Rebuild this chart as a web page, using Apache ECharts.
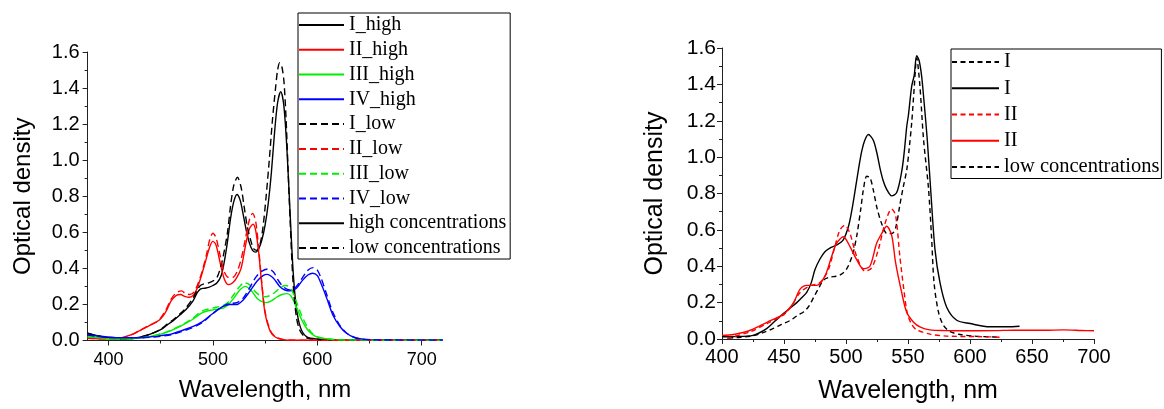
<!DOCTYPE html>
<html>
<head>
<meta charset="utf-8">
<script src="https://cdn.jsdelivr.net/npm/echarts@6/dist/echarts.min.js"></script>
<style>
html,body{margin:0;padding:0;background:#fff;}
#c{width:1164px;height:409px;}
</style>
</head>
<body>
<div id="c"></div>
<script>
// ---------- Left panel data ----------
const I_high_nm = [380,390,400,410,420,430,440,450,456,462,468,474,481,485,488,492,496,500,504,508,511,514,517,520,523,526,529,532,535,538,541,544,547,550,553,556,559,562,565,568,571,574,577,580,584,590,600,620,650,720];
const I_high_od = [0.04,0.025,0.015,0.01,0.01,0.018,0.035,0.06,0.085,0.11,0.14,0.17,0.22,0.265,0.285,0.29,0.295,0.305,0.32,0.36,0.44,0.55,0.68,0.77,0.81,0.78,0.7,0.61,0.54,0.5,0.49,0.51,0.56,0.64,0.76,0.93,1.15,1.32,1.38,1.3,1.05,0.7,0.37,0.18,0.07,0.02,0.008,0.004,0.002,0.001];

const I_low_nm = [380,390,400,410,420,430,440,450,456,462,468,474,481,485,488,492,496,500,504,508,511,514,517,520,523.5,527,530,533,536,539,542,545,548,551,554,557,560,562,564,566,568,570,572,574,577,580,583,588,595,620,650,720];
const I_low_od = [0.04,0.025,0.015,0.01,0.01,0.018,0.035,0.062,0.09,0.115,0.145,0.18,0.235,0.28,0.305,0.315,0.32,0.33,0.35,0.42,0.5,0.6,0.75,0.86,0.905,0.85,0.74,0.63,0.56,0.51,0.5,0.53,0.63,0.8,1.0,1.22,1.4,1.5,1.54,1.52,1.44,1.24,0.95,0.66,0.3,0.13,0.06,0.02,0.008,0.004,0.002,0.001];

const II_high_nm = [380,390,400,410,415,420,425,430,435,440,445,450,455,460,465,469,473,477,481,485,489,493,497,500,503,507,511,515,519,523,527,531,535,538.5,541,544,547,550,555,560,567,580,720];
const II_high_od = [0.015,0.01,0.01,0.012,0.018,0.028,0.04,0.055,0.07,0.085,0.1,0.12,0.16,0.22,0.25,0.255,0.245,0.24,0.25,0.29,0.36,0.44,0.52,0.55,0.53,0.43,0.34,0.31,0.32,0.35,0.4,0.52,0.62,0.645,0.61,0.48,0.3,0.15,0.05,0.018,0.005,0.002,0.001];

const II_low_nm = [380,390,400,410,415,420,425,430,435,440,445,450,455,460,465,470,474,478,482,486,490,494,497,500,503,507,511,515,519,523,527,531,535,538,541,544,547,550,555,560,567,580,720];
const II_low_od = [0.012,0.01,0.01,0.012,0.018,0.028,0.04,0.055,0.072,0.088,0.1,0.125,0.17,0.23,0.265,0.275,0.26,0.255,0.27,0.32,0.39,0.48,0.56,0.595,0.57,0.47,0.38,0.35,0.35,0.38,0.45,0.56,0.67,0.705,0.66,0.5,0.31,0.16,0.055,0.02,0.006,0.002,0.001];

const III_high_nm = [380,390,400,410,420,430,440,450,460,470,480,490,500,510,515,520,525,531,537,543,551,556,561,566,571,575,580,585,590,595,600,610,620,650,720];
const III_high_od = [0.02,0.015,0.01,0.01,0.01,0.015,0.022,0.035,0.055,0.082,0.115,0.155,0.17,0.18,0.2,0.235,0.275,0.3,0.275,0.23,0.21,0.22,0.24,0.255,0.26,0.245,0.185,0.115,0.065,0.035,0.02,0.008,0.004,0.002,0.001];

const III_low_nm = [380,390,400,410,420,430,440,450,460,470,480,490,500,510,515,520,525,530,535,540,545,550,555,560,565,570,575,580,585,590,595,600,610,620,650,720];
const III_low_od = [0.02,0.015,0.01,0.01,0.01,0.015,0.022,0.037,0.058,0.086,0.12,0.165,0.18,0.195,0.215,0.255,0.295,0.32,0.31,0.275,0.25,0.243,0.25,0.27,0.295,0.305,0.285,0.215,0.14,0.08,0.04,0.02,0.008,0.004,0.002,0.001];

const IV_high_nm = [380,390,400,410,420,430,440,450,460,470,480,490,500,510,516,523,529,535,542,548,552,558,564,569,574,580,586,591,595.5,600,604,609,615,622,628,635,644,660,720];
const IV_high_od = [0.035,0.025,0.02,0.015,0.015,0.015,0.02,0.027,0.035,0.055,0.075,0.105,0.15,0.19,0.2,0.2,0.225,0.27,0.327,0.36,0.367,0.345,0.3,0.28,0.275,0.29,0.335,0.363,0.373,0.36,0.31,0.235,0.14,0.075,0.04,0.018,0.007,0.003,0.002];

const IV_low_nm = [380,390,400,410,420,430,440,450,460,470,480,490,500,510,516,523,529,535,541,547,553,558,563,568,574,580,586,591,596,600,604,609,615,622,628,635,645,660,720];
const IV_low_od = [0.03,0.022,0.017,0.015,0.015,0.015,0.018,0.024,0.032,0.05,0.07,0.1,0.15,0.19,0.205,0.21,0.235,0.29,0.35,0.385,0.397,0.38,0.33,0.295,0.28,0.3,0.35,0.39,0.404,0.39,0.34,0.255,0.155,0.08,0.042,0.018,0.006,0.003,0.002];

// ---------- Right panel data ----------
const rI_low_nm = [405,415,425,433,441,448,455,461,466,470,474,478,482,487,492,496,500,503,506,509,512,514,516.7,519.4,522,525,529,533,537,540,543.5,546,549,551,553,555,557,559.5,562.5,566.5,569,571,574.5,578.5,584,592,603,616,624];
const rI_low_od = [0.005,0.01,0.018,0.035,0.057,0.08,0.102,0.13,0.15,0.18,0.23,0.28,0.325,0.34,0.345,0.355,0.38,0.42,0.48,0.58,0.72,0.82,0.895,0.886,0.82,0.72,0.63,0.58,0.58,0.61,0.74,0.83,0.93,1.05,1.19,1.38,1.545,1.4,1.1,0.83,0.56,0.31,0.15,0.076,0.04,0.025,0.016,0.012,0.01];

const rI_high_nm = [400,410,425,436,443,449.5,455,460.3,464,468.3,472,475,479,483,487,492.5,497.8,501.9,504.5,507.3,510,512.6,515,518,522,525,527.4,530,532.8,536.8,540.9,544.9,547,549,550.3,553,555,557,559,561,563,565.5,568.5,571.8,575.8,581.2,589.3,600,616,630,640];
const rI_high_od = [0.012,0.013,0.02,0.057,0.1,0.14,0.17,0.2,0.225,0.256,0.31,0.382,0.44,0.48,0.5,0.517,0.545,0.617,0.7,0.814,0.93,1.03,1.09,1.124,1.093,1.02,0.94,0.87,0.823,0.787,0.805,0.92,1.03,1.17,1.229,1.39,1.45,1.557,1.53,1.445,1.3,1.1,0.8,0.49,0.31,0.175,0.103,0.085,0.067,0.067,0.07];

const rII_low_nm = [404,422.8,436.3,449.7,456,463,471,479,485.8,491,495,499,503.2,508.6,515.3,520.7,526,531.4,536.8,540,543.5,546.5,549.5,553,557,567.7,581,608,624];
const rII_low_od = [0.004,0.04,0.085,0.133,0.18,0.256,0.292,0.31,0.382,0.508,0.598,0.625,0.58,0.454,0.373,0.391,0.49,0.634,0.715,0.68,0.45,0.28,0.14,0.08,0.05,0.027,0.016,0.013,0.01];

const rII_high_nm = [400,409.4,422.8,436.3,449.7,457.7,463,468.3,476.3,483,488.4,492.4,497.8,503.2,508.6,514,519.3,524.7,528.8,532.8,536.8,540,544.9,548.9,554.3,560,567.7,580,594.6,620,634.9,660,675.3,690,700];
const rII_high_od = [0.02,0.025,0.048,0.092,0.137,0.2,0.274,0.295,0.295,0.346,0.454,0.526,0.562,0.508,0.436,0.386,0.4,0.526,0.58,0.62,0.571,0.42,0.256,0.148,0.094,0.065,0.05,0.046,0.045,0.046,0.049,0.048,0.05,0.047,0.045];

// ---------- Tick values ----------
const leftXMajor = [400,500,600,700];
const leftXMinor = [450,550,650];

const rightLegendNames = {
  'rI_low':'I', 'rI_high':'I', 'rII_low':'II', 'rII_high':'II', 'rLowConc':'low concentrations'
};

function zip(xs, ys){ return xs.map((x,i)=>[x, ys[i]]); }

const BLACK='#000000', RED='#ff0000', GREEN='#00ee00', BLUE='#0000ff';
const LDASH=[7,4], RDASH=[5,3.5];
const AX='#222';
const sans='Liberation Sans';
const serif='Liberation Serif';

function ln(name, xs, ys, color, dashed, xi, dash){
  return {
    name, type:'line', xAxisIndex:xi, yAxisIndex:xi, data: zip(xs, ys),
    symbol:'none', showSymbol:false, smooth:0.3, animation:false,
    lineStyle:{color, width:1.4, type: dashed ? dash : 'solid'},
    itemStyle:{color}
  };
}

const chart = echarts.init(document.getElementById('c'), null, {renderer:'canvas'});

const yCommon = {
  type:'value', min:0, max:1.6, interval:0.2,
  axisLine:{show:true, lineStyle:{color:AX, width:1}},
  axisTick:{show:true, length:5, lineStyle:{color:AX}},
  minorTick:{show:true, splitNumber:2, length:3, lineStyle:{color:AX}},
  splitLine:{show:false},
  nameLocation:'middle',
  name:'Optical density'
};

const option = {
  backgroundColor:'#fff',
  animation:false,
  grid:[
    {left:87.6, top:52, width:355, height:288.5},
    {left:722, top:48, width:372, height:296}
  ],
  xAxis:[
    {type:'value', gridIndex:0, min:380, max:720, position:'bottom',
     axisLine:{show:true, onZero:false, lineStyle:{color:AX}},
     axisTick:{show:true, length:5, customValues:leftXMajor, lineStyle:{color:AX}},
     axisLabel:{customValues:leftXMajor, color:'#000', fontFamily:sans, fontSize:18, margin:11},
     splitLine:{show:false},
     name:'Wavelength, nm', nameLocation:'middle', nameGap:38,
     nameTextStyle:{color:'#000', fontFamily:sans, fontSize:24}},
    {type:'value', gridIndex:1, min:400, max:700, interval:50, position:'bottom',
     axisLine:{show:true, onZero:false, lineStyle:{color:AX}},
     axisTick:{show:true, length:5, lineStyle:{color:AX}},
     minorTick:{show:true, splitNumber:2, length:3, lineStyle:{color:AX}},
     axisLabel:{color:'#000', fontFamily:sans, fontSize:20, margin:8},
     splitLine:{show:false},
     name:'Wavelength, nm', nameLocation:'middle', nameGap:40,
     nameTextStyle:{color:'#000', fontFamily:sans, fontSize:25}},
    {type:'value', gridIndex:0, min:380, max:720, position:'bottom',
     axisLine:{show:false},
     axisTick:{show:true, length:3, customValues:leftXMinor, lineStyle:{color:AX}},
     axisLabel:{show:false}, splitLine:{show:false}}
  ],
  yAxis:[
    Object.assign({}, yCommon, {gridIndex:0, nameGap:52,
      axisLabel:{color:'#000', fontFamily:sans, fontSize:20, margin:8, formatter:v=>v.toFixed(1)},
      nameTextStyle:{color:'#000', fontFamily:sans, fontSize:24}}),
    Object.assign({}, yCommon, {gridIndex:1, nameGap:54,
      axisLabel:{color:'#000', fontFamily:sans, fontSize:21, margin:6, formatter:v=>v.toFixed(1)},
      nameTextStyle:{color:'#000', fontFamily:sans, fontSize:25}})
  ],
  legend:[
    {left:298, top:13, orient:'vertical', align:'left',
     data:['I_high','II_high','III_high','IV_high','I_low','II_low','III_low','IV_low','high concentrations','low concentrations'],
     borderColor:'#000', borderWidth:1, backgroundColor:'#fff',
     padding:[2,4,1,0], itemGap:4.78, itemWidth:45, itemHeight:14,
     selectedMode:false,
     itemStyle:{opacity:0},
     textStyle:{fontFamily:serif, fontSize:20, color:'#000', lineHeight:20}},
    {left:951, top:49, orient:'vertical', align:'left',
     data:['rI_low','rI_high','rII_low','rII_high','rLowConc'],
     formatter: n => rightLegendNames[n],
     borderColor:'#000', borderWidth:1, backgroundColor:'#fff',
     padding:[2.5,2,1,0], itemGap:5.25, itemWidth:47, itemHeight:14,
     selectedMode:false,
     itemStyle:{opacity:0},
     textStyle:{fontFamily:serif, fontSize:20.5, color:'#000', lineHeight:20.5}}
  ],
  series:[
    ln('I_high', I_high_nm, I_high_od, BLACK, false, 0, LDASH),
    ln('II_high', II_high_nm, II_high_od, RED, false, 0, LDASH),
    ln('III_high', III_high_nm, III_high_od, GREEN, false, 0, LDASH),
    ln('IV_high', IV_high_nm, IV_high_od, BLUE, false, 0, LDASH),
    ln('I_low', I_low_nm, I_low_od, BLACK, true, 0, LDASH),
    ln('II_low', II_low_nm, II_low_od, RED, true, 0, LDASH),
    ln('III_low', III_low_nm, III_low_od, GREEN, true, 0, LDASH),
    ln('IV_low', IV_low_nm, IV_low_od, BLUE, true, 0, LDASH),
    ln('high concentrations', [], [], BLACK, false, 0, LDASH),
    ln('low concentrations', [], [], BLACK, true, 0, LDASH),
    ln('rI_low', rI_low_nm, rI_low_od, BLACK, true, 1, RDASH),
    ln('rI_high', rI_high_nm, rI_high_od, BLACK, false, 1, RDASH),
    ln('rII_low', rII_low_nm, rII_low_od, RED, true, 1, RDASH),
    ln('rII_high', rII_high_nm, rII_high_od, RED, false, 1, RDASH),
    ln('rLowConc', [], [], BLACK, true, 1, RDASH)
  ]
};
chart.setOption(option);
</script>
</body>
</html>
